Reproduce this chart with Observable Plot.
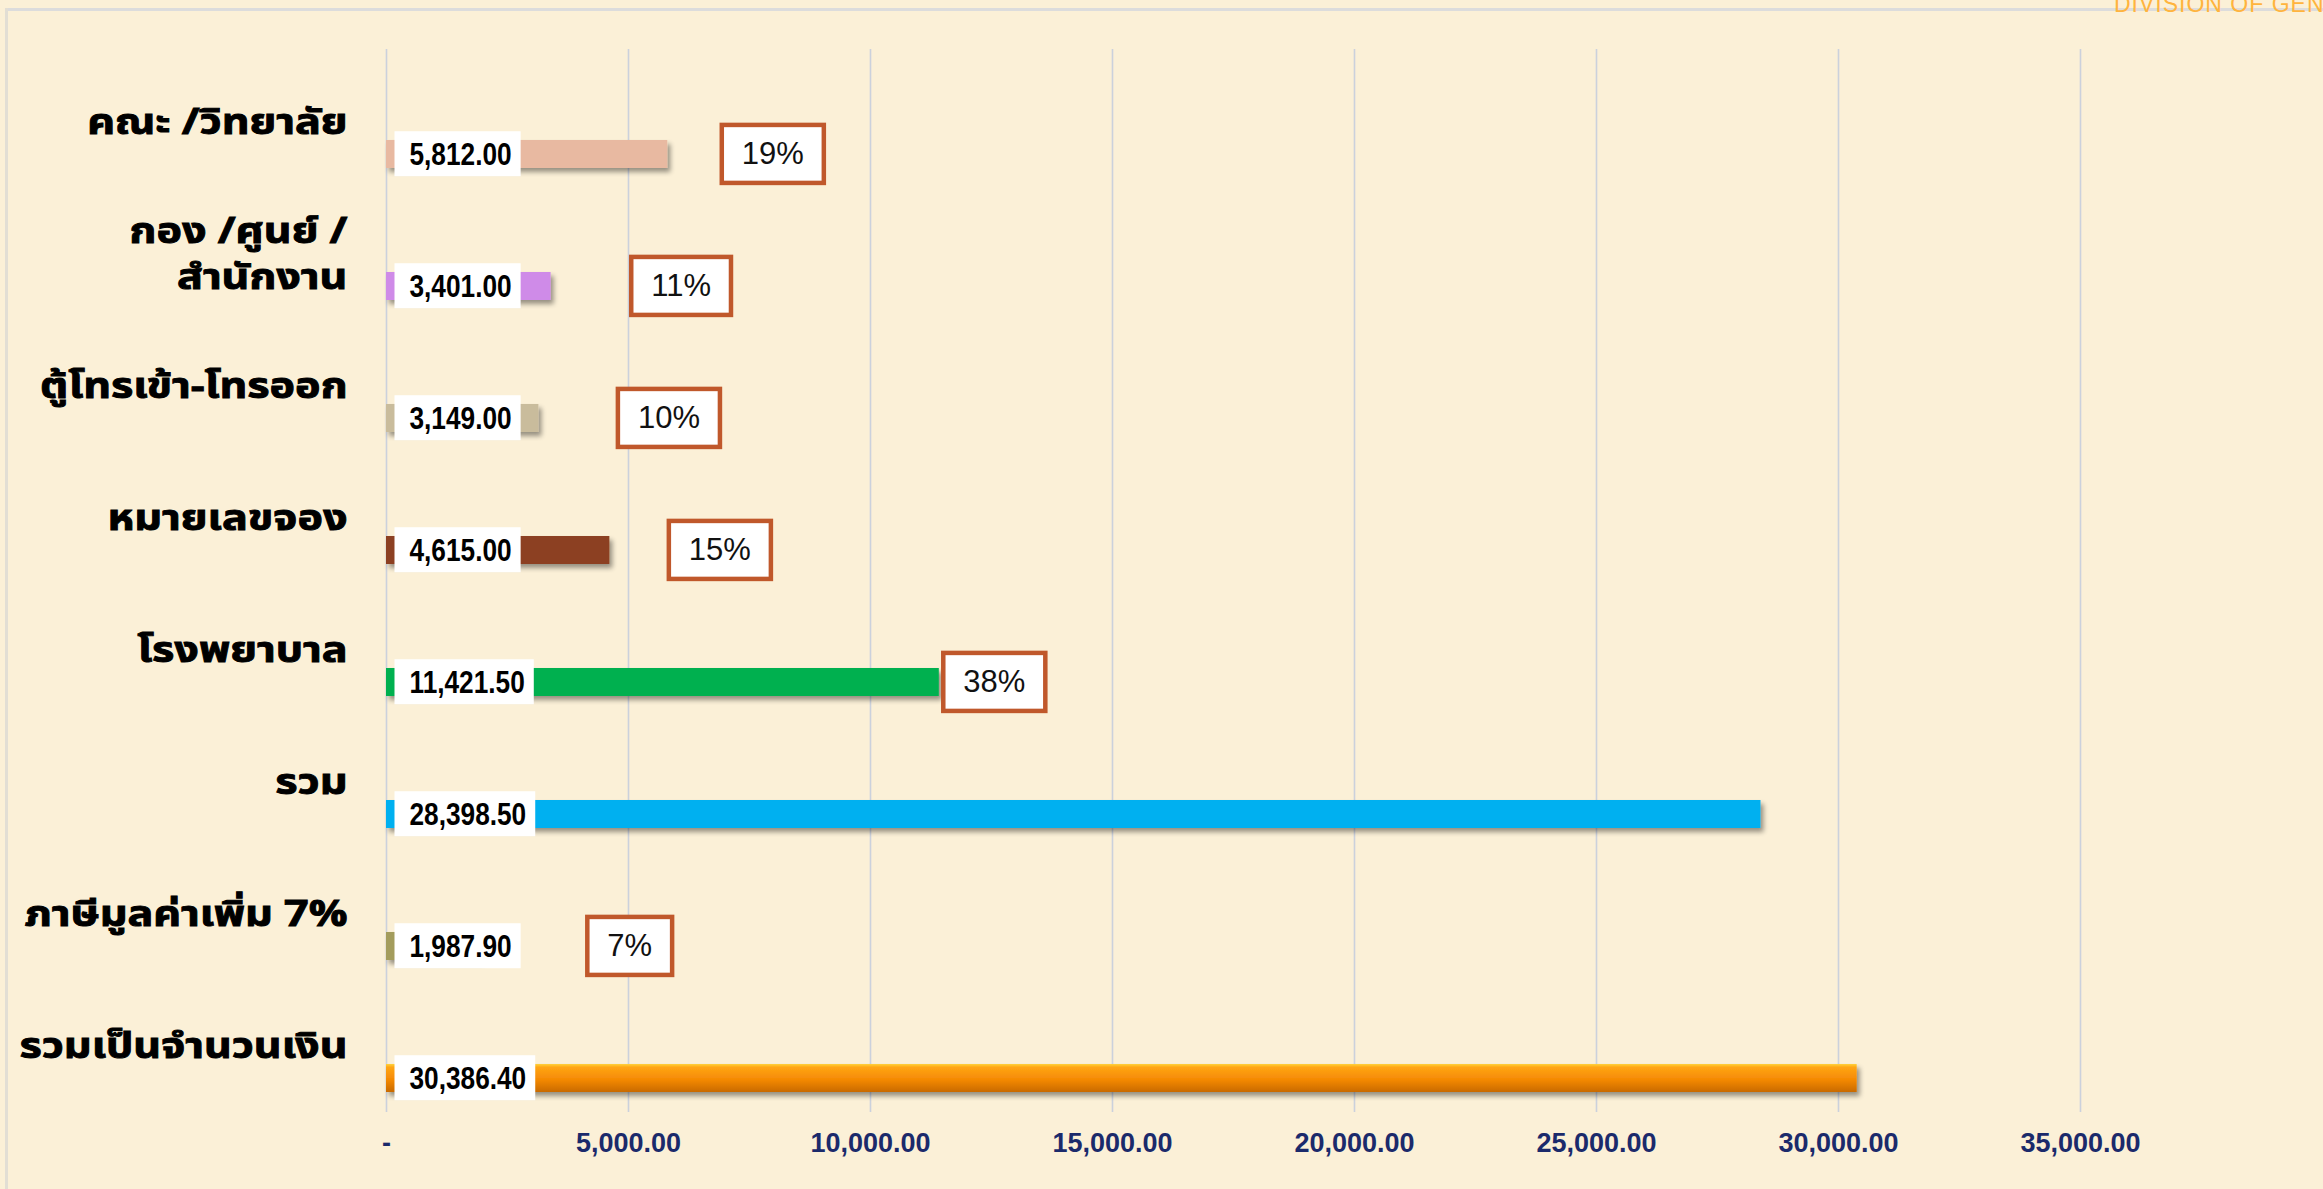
<!DOCTYPE html>
<html>
<head>
<meta charset="utf-8">
<script src="https://cdn.jsdelivr.net/npm/d3@7"></script>
<script src="https://cdn.jsdelivr.net/npm/@observablehq/plot@0.6"></script>
<style>
  html, body { margin: 0; padding: 0; background: #FBF0D7; overflow: hidden; }
  #wrap { position: relative; width: 2323px; height: 1189px; overflow: hidden; }
  #frameTop { position: absolute; left: 5px; top: 8px; width: 2318px; height: 3px; background: #DCDCDC; }
  #frameLeft { position: absolute; left: 5px; top: 8px; width: 3px; height: 1181px; background: #E2DED4; }
  #brand { position: absolute; left: 2114px; top: -7px; font-family: "Liberation Sans", sans-serif; font-size: 23px; line-height: 23px; color: #FFB43E; letter-spacing: 1px; white-space: nowrap; }
  #chart { position: absolute; left: 0; top: 0; }
</style>
</head>
<body>
<svg width="0" height="0" style="position:absolute">
  <defs>
    <linearGradient id="orangeGrad" x1="0" y1="0" x2="0" y2="1">
      <stop offset="0" stop-color="#FFD23C"/>
      <stop offset="0.12" stop-color="#FFA514"/>
      <stop offset="0.55" stop-color="#F58A05"/>
      <stop offset="1" stop-color="#C96A02"/>
    </linearGradient>
    <filter id="shadow" x="-5%" y="-50%" width="110%" height="220%">
      <feGaussianBlur in="SourceAlpha" stdDeviation="2.5"/>
      <feOffset dx="3" dy="4" result="b"/>
      <feComponentTransfer><feFuncA type="linear" slope="0.4"/></feComponentTransfer>
      <feMerge><feMergeNode/><feMergeNode in="SourceGraphic"/></feMerge>
    </filter>
  </defs>
</svg>
<div id="wrap">
  <div id="frameTop"></div>
  <div id="frameLeft"></div>
  <div id="brand">DIVISION OF GENERAL</div>
  <div id="chart"></div>
</div>
<script>
// ---- data ----
const categories = [
  "คณะ /วิทยาลัย",
  "กอง /ศูนย์ /\nสำนักงาน",
  "ตู้โทรเข้า-โทรออก",
  "หมายเลขจอง",
  "โรงพยาบาล",
  "รวม",
  "ภาษีมูลค่าเพิ่ม 7%",
  "รวมเป็นจำนวนเงิน"
];
const values = [5812.00, 3401.00, 3149.00, 4615.00, 11421.50, 28398.50, 1987.90, 30386.40];
const shares = ["19%", "11%", "10%", "15%", "38%", null, "7%", null];
const barColors = ["#E8B9A1", "#CF8BE8", "#C9BC9C", "#8C4123", "#00B050", "#00B0F0", "#A39C5B", "url(#orangeGrad)"];
const xTicks = [0, 5000, 10000, 15000, 20000, 25000, 30000, 35000];

// ---- build ----
const rows = categories.map((c, i) => ({cat: c, value: values[i], share: shares[i], color: barColors[i]}));
const fmt2 = d3.format(",.2f");
const sans = '"Liberation Sans", Arial, sans-serif';
const thai = '"Noto Sans Thai", "Noto Sans Thai Looped", "Loma", "Garuda", sans-serif';

// pixel offsets of the percentage boxes from each bar's end (layout, not data)
const pctDx = [105, 130, 130, 110, 55, 0, 147, 0];
const BAR_DY = 35;

const pctMarks = rows
  .map((r, i) => r.share ? Plot.text([r], {
    x: "value", y: "cat", text: "share", dx: pctDx[i], dy: BAR_DY,
    fontSize: 31, fontFamily: sans, fill: "#111"
  }) : null)
  .filter(Boolean);

const chart = Plot.plot({
  width: 2323,
  height: 1189,
  marginLeft: 386,
  marginRight: 243,
  marginTop: 49,
  marginBottom: 77,
  style: {background: "transparent", overflow: "visible"},
  x: {domain: [0, 35000], axis: null},
  y: {domain: categories, padding: 0, axis: null},
  color: {type: "identity"},
  marks: [
    Plot.gridX(xTicks, {stroke: "#CBD1DC", strokeOpacity: 1, strokeWidth: 1.6}),
    Plot.axisX(xTicks, {
      label: null, tickSize: 0, tickPadding: 20,
      tickFormat: d => d === 0 ? "-" : fmt2(d),
      fontSize: 27, fontWeight: "bold", fill: "#1B2A6B", fontFamily: sans
    }),
    Plot.axisY({
      label: null, tickSize: 0, tickPadding: 39,
      fontSize: 35, fontWeight: "bold", fill: "#000", fontFamily: thai, lineHeight: 1.3
    }),
    Plot.barX(rows, {x: "value", y: "cat", fill: "color", insetTop: 87, insetBottom: 17}),
    Plot.text(rows, {
      x: 0, y: "cat", text: d => fmt2(d.value), textAnchor: "start", dx: 23, dy: BAR_DY,
      fontSize: 32, fontWeight: "bold", fontFamily: sans, fill: "#000"
    }),
    ...pctMarks
  ]
});

document.getElementById("chart").appendChild(chart);
const svgNS = "http://www.w3.org/2000/svg";

// shadows on bars
d3.select(chart).selectAll('g[aria-label="bar"]').attr("filter", "url(#shadow)");

const valueSet = new Set(values.map(fmt2));
const shareSet = new Set(shares.filter(Boolean));
const catSet = new Set(categories.map(c => c.replace(/\s/g, "")));

function scaleX(el, s, anchor) {
  const b = el.getBBox();
  const ax = anchor === "end" ? b.x + b.width : anchor === "middle" ? b.x + b.width / 2 : b.x;
  const t = el.getAttribute("transform") || "";
  el.setAttribute("transform", `${t} translate(${ax},0) scale(${s},1) translate(${-ax},0)`);
  return {b, ax};
}

d3.select(chart).selectAll("text").each(function() {
  const txt = this.textContent;
  const t0 = this.getAttribute("transform");
  if (valueSet.has(txt)) {
    // narrow bold value label in a white box
    const {b, ax} = scaleX(this, 0.82, "start");
    const cy = b.y + b.height / 2;
    const r = document.createElementNS(svgNS, "rect");
    r.setAttribute("x", ax - 15);
    r.setAttribute("y", cy - 22.5);
    r.setAttribute("width", b.width * 0.82 + 24);
    r.setAttribute("height", 45);
    r.setAttribute("fill", "#FFFFFF");
    if (t0) r.setAttribute("transform", t0);
    this.parentNode.insertBefore(r, this);
  } else if (shareSet.has(txt)) {
    const b = this.getBBox();
    const cx = b.x + b.width / 2;
    const cy = b.y + b.height / 2;
    const w = b.width + 40;
    const r = document.createElementNS(svgNS, "rect");
    r.setAttribute("x", cx - w / 2);
    r.setAttribute("y", cy - 29);
    r.setAttribute("width", w);
    r.setAttribute("height", 58);
    r.setAttribute("fill", "#FFFFFF");
    r.setAttribute("stroke", "#C0582B");
    r.setAttribute("stroke-width", 4.5);
    if (t0) r.setAttribute("transform", t0);
    this.parentNode.insertBefore(r, this);
  } else if (catSet.has(txt.replace(/\s/g, ""))) {
    // wider, heavier Thai category labels
    scaleX(this, 1.23, "end");
    this.setAttribute("stroke", "#000");
    this.setAttribute("stroke-width", 0.9);
  }
});
</script>
</body>
</html>
